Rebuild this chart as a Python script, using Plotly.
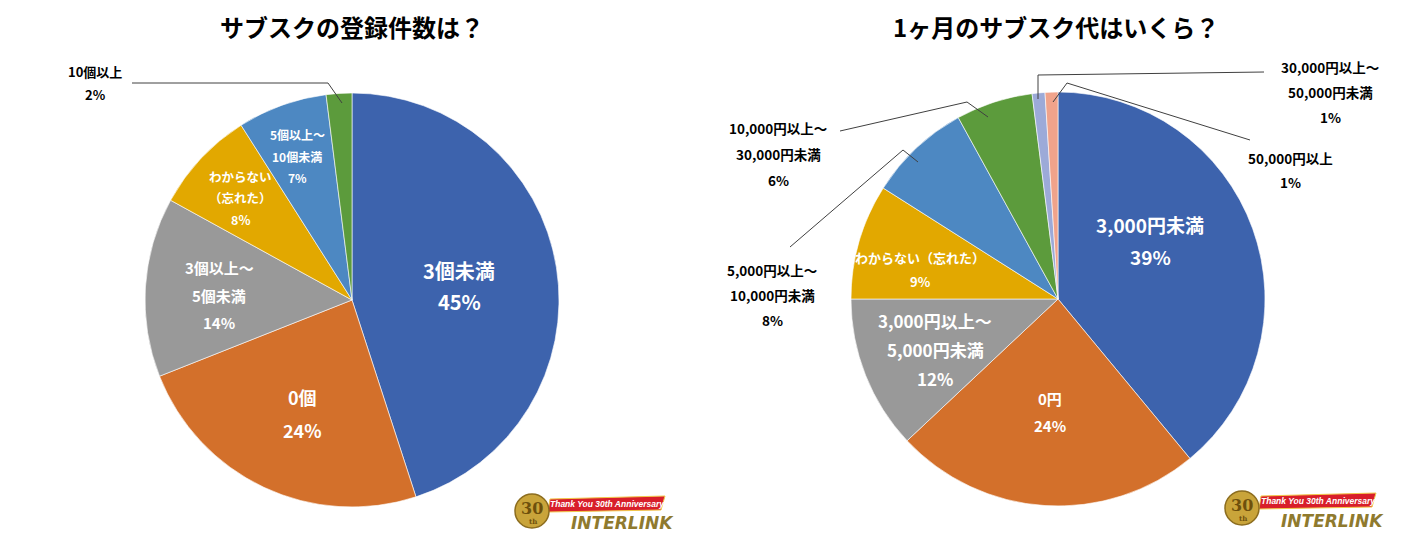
import plotly.graph_objects as go

# ---------------- data ----------------
left_title = "サブスクの登録件数は？"
left_labels = ["3個未満", "0個", "3個以上～5個未満", "わからない（忘れた）", "5個以上～10個未満", "10個以上"]
left_label_lines = [["3個未満"], ["0個"], ["3個以上～", "5個未満"], ["わからない", "（忘れた）"],
                    ["5個以上～", "10個未満"], ["10個以上"]]
left_values = [45, 24, 14, 8, 7, 2]

right_title = "1ヶ月のサブスク代はいくら？"
right_labels = ["3,000円未満", "0円", "3,000円以上～5,000円未満", "わからない（忘れた）",
                "5,000円以上～10,000円未満", "10,000円以上～30,000円未満",
                "30,000円以上～50,000円未満", "50,000円以上"]
right_label_lines = [["3,000円未満"], ["0円"], ["3,000円以上～", "5,000円未満"], ["わからない（忘れた）"],
                     ["5,000円以上～", "10,000円未満"], ["10,000円以上～", "30,000円未満"],
                     ["30,000円以上～", "50,000円未満"], ["50,000円以上"]]
right_values = [39, 24, 12, 9, 8, 6, 1, 1]

# ---------------- style ----------------
W, H = 1410, 549
OFF = 8  # page body margin offset
FONT = "Noto Sans CJK JP"
colors_left = ["#3D63AD", "#D3702B", "#999999", "#E2A800", "#4D88C2", "#5C9B3C"]
colors_right = ["#3D63AD", "#D3702B", "#999999", "#E2A800", "#4D88C2", "#5C9B3C", "#9CAAD8", "#F0A38B"]


def px(x):
    return (x - OFF) / W


def py(y):
    return 1 - (y - OFF) / H


fig = go.Figure()


def add_pie(values, labels, colors, cx, cy, r):
    fig.add_trace(go.Pie(
        values=values, labels=labels, sort=False, direction="clockwise", rotation=0,
        marker=dict(colors=colors, line=dict(color="rgba(255,255,255,0.6)", width=1)),
        textinfo="none", hoverinfo="label+percent", showlegend=False,
        domain=dict(x=[px(cx - r), px(cx + r)], y=[py(cy + r), py(cy - r)]),
    ))


add_pie(left_values, left_labels, colors_left, 352, 300, 207)
add_pie(right_values, right_labels, colors_right, 1058, 299, 207)

annotations = []


def text(x, y, s, size, color="black", family=FONT, bold=True):
    annotations.append(dict(
        x=px(x), y=py(y), xref="paper", yref="paper",
        text=("<b>" + s + "</b>") if bold else s,
        showarrow=False, xanchor="center", yanchor="middle",
        font=dict(family=family, size=size, color=color)))


# label placement: (x, y of first line, line spacing, font size, colour)
left_pos = [(459, 270, 31, 20, "white"), (302, 397, 33, 18, "white"),
            (219, 268, 27, 15, "white"), (241, 176, 21.5, 12.5, "white"),
            (297, 134, 22, 12, "white"), (95, 71, 23, 13, "black")]
right_pos = [(1150, 224, 32, 19, "white"), (1050, 398, 27, 15, "white"),
             (935, 320, 29, 17, "white"), (920, 257, 24, 13, "white"),
             (772, 270, 25, 13.5, "black"), (778, 128, 26, 13.5, "black"),
             (1330, 67, 25, 13.5, "black"), (1290, 158, 24, 13.5, "black")]


def add_labels(lines_list, values, pos):
    for lines, v, (x, y0, dy, size, color) in zip(lines_list, values, pos):
        all_lines = lines + [f"{v}%"]
        for i, s in enumerate(all_lines):
            text(x, y0 + i * dy, s, size, color)


add_labels(left_label_lines, left_values, left_pos)
add_labels(right_label_lines, right_values, right_pos)

# titles
text(352, 27, left_title, 24)
text(1056, 27, right_title, 24)

# leader lines
shapes = []
leaders = [
    [(132, 83), (328, 83), (342, 103)],
    [(790, 247), (903, 150), (918, 162)],
    [(840, 131), (967, 102), (988, 117)],
    [(1264, 72), (1038, 75), (1038, 99)],
    [(1250, 140), (1067, 83), (1053, 102)],
]
for pts in leaders:
    path = "M " + " L ".join(f"{px(x)},{py(y)}" for x, y in pts)
    shapes.append(dict(type="path", path=path, xref="paper", yref="paper",
                       line=dict(color="#404040", width=1)))


# logos (approximation)
def logo(cx, cy, rib_x0, rib_x1, rib_y, ink_x, ink_y):
    p = [(rib_x0, rib_y - 6), (rib_x1, rib_y - 9), (rib_x1 - 4, rib_y + 5), (rib_x0 - 2, rib_y + 7)]
    shapes.append(dict(type="path", xref="paper", yref="paper",
                       path="M " + " L ".join(f"{px(x)},{py(y)}" for x, y in p) + " Z",
                       fillcolor="#D81E2A", line=dict(color="#F2C94C", width=1)))
    r = 17
    shapes.append(dict(type="circle", xref="paper", yref="paper",
                       x0=px(cx - r), x1=px(cx + r), y0=py(cy + r), y1=py(cy - r),
                       fillcolor="#C9A43A", line=dict(color="#8C6D1F", width=1.5)))
    text(cx, cy - 3, "30", 16, "#6E500C", family="DejaVu Serif")
    text(cx + 1, cy + 10, "th", 7, "#6E500C", family="DejaVu Serif")
    text((rib_x0 + rib_x1) / 2, rib_y - 1, "<i>Thank You 30th Anniversary</i>", 8.5, "white",
         family="Liberation Sans")
    text(ink_x, ink_y, "<i>INTERLINK</i>", 17, "#8F7A2E", family="DejaVu Sans")


logo(532, 511, 550, 665, 505, 622, 523)
logo(1242, 508, 1261, 1376, 502, 1332, 521)

fig.update_layout(
    width=W, height=H, margin=dict(l=0, r=0, t=0, b=0),
    paper_bgcolor="white", plot_bgcolor="white",
    annotations=annotations, shapes=shapes, showlegend=False,
)

fig.write_html("out.html")
